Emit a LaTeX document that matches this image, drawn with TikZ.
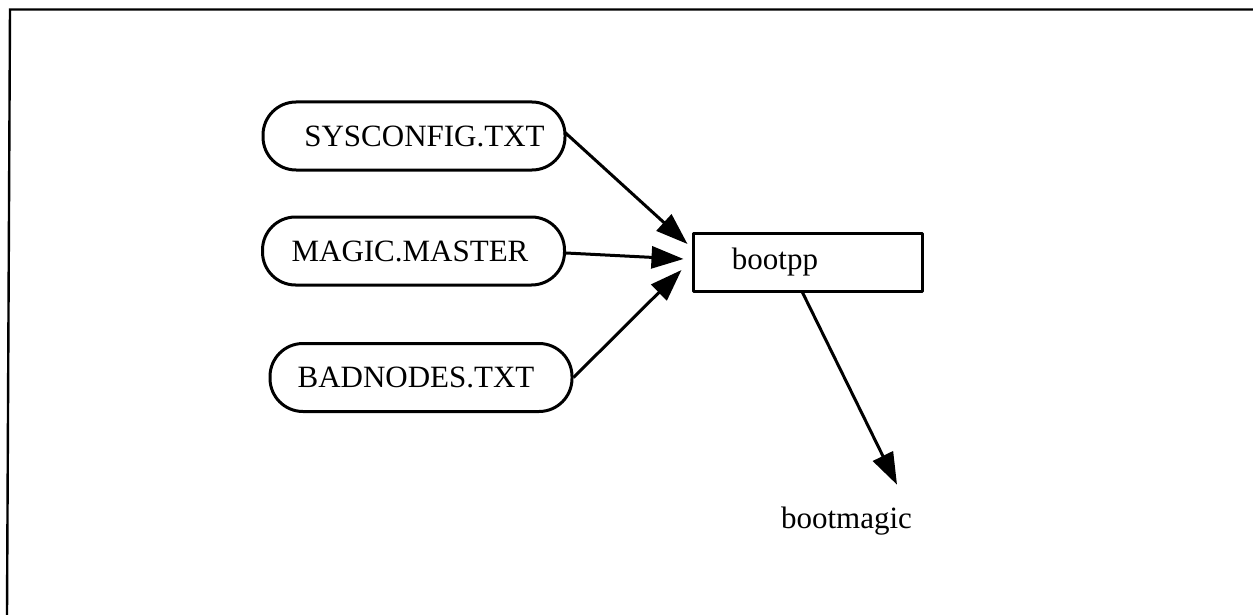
\documentclass[tikz,border=0pt]{standalone}
\usepackage{fontspec}
\setmainfont{Liberation Serif}
\usetikzlibrary{arrows.meta}
\tikzset{
  ink/.style={line width=3pt, line join=round},
  filebox/.style={ink, draw, rounded corners=33pt, minimum width=302pt, minimum height=68pt, inner sep=0pt},
  progbox/.style={ink, draw, minimum width=229pt, minimum height=58pt, inner sep=0pt},
  plain/.style={inner sep=0pt},
  flow/.style={ink, -{Triangle[length=32pt, width=22pt]}},
  frame/.style={line width=2.4pt}
}
\begin{document}
\begin{tikzpicture}[x=1pt, y=-1pt, font=\fontsize{31}{36}\selectfont]
  \useasboundingbox (0,0) rectangle (1253,615);
  % outer frame (top and left edges)
  \draw[frame] (7,615) -- (10,9.5) -- (1253,9.5);

  % input files
  \node[filebox] (sys) at (414,136) {\hspace*{21pt}SYSCONFIG.TXT};
  \node[filebox] (mag) at (413.5,251) {MAGIC.MASTER\hspace*{7pt}};
  \node[filebox] (bad) at (421,377.5) {BADNODES.TXT\hspace*{10pt}};

  % preprocessor and its output
  \node[progbox] (boot) at (807.5,262) {bootpp\hspace*{65pt}};
  \node[plain] (bm) at (846.5,521) {bootmagic};

  % connectors
  \draw[flow] ([xshift=-2pt,yshift=4pt]sys.east) -- ([xshift=-4pt,yshift=18pt]boot.west);
  \draw[flow] ([yshift=-2pt]mag.east) -- ([xshift=-8pt,yshift=3pt]boot.west);
  \draw[flow] (bad.east) -- ([xshift=-10pt,yshift=-8pt]boot.west);
  \draw[flow] ([xshift=-5pt]boot.south) -- ([xshift=50.5pt,yshift=22pt]bm.north);
\end{tikzpicture}
\end{document}
